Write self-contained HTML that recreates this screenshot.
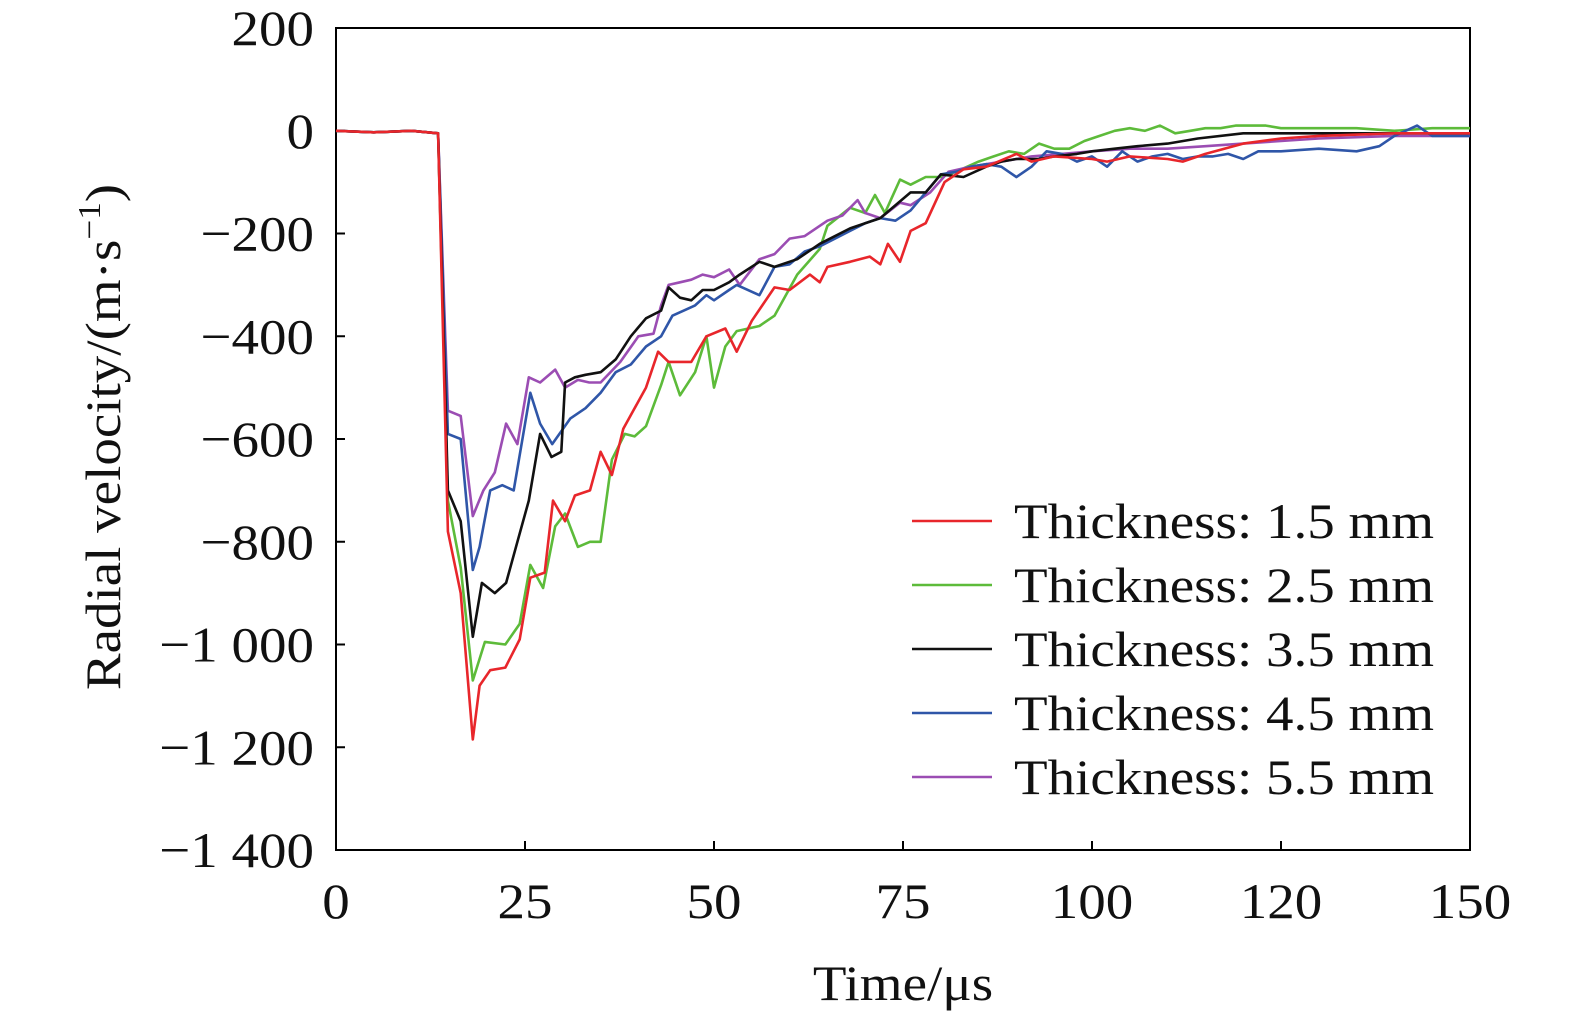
<!DOCTYPE html>
<html><head><meta charset="utf-8">
<style>
html,body{margin:0;padding:0;background:#fff;}
svg{display:block;font-family:"Liberation Serif",serif;}
</style></head>
<body>
<svg id="chart" width="1575" height="1023" viewBox="0 0 1575 1023"></svg>
<script>
const xTicks=[0,25,50,75,100,125,150];
const xTickLabels=["0","25","50","75","100","120","150"];
const yTicks=[200,0,-200,-400,-600,-800,-1000,-1200,-1400];
const yTickLabels=["200","0","\u2212200","\u2212400","\u2212600","\u2212800","\u22121 000","\u22121 200","\u22121 400"];
const seriesNames=["Thickness: 1.5 mm","Thickness: 2.5 mm","Thickness: 3.5 mm","Thickness: 4.5 mm","Thickness: 5.5 mm"];
const seriesColors=["#e8262b","#5dbb3a","#111111","#2f56a8","#9b4db3"];
const tRed=[0,5,10,13.5,14.8,16.5,18.1,19,20.4,22.4,24.3,25.7,27.6,28.7,30.3,31.6,33.6,35,36.5,38,41,42.6,44,47,49,51.5,53,55,58,60,62.7,64,65,68,70.6,72,73,74.6,76,78,80.5,83,86,90,92,95,100,102,105,110,112,115,120,125,130,140,150];
const vRed=[0,-3,0,-5,-780,-900,-1185,-1080,-1050,-1045,-990,-870,-860,-720,-760,-710,-700,-625,-670,-580,-500,-430,-450,-450,-400,-385,-430,-370,-305,-310,-280,-295,-265,-255,-245,-260,-220,-255,-195,-180,-100,-75,-70,-45,-60,-50,-55,-60,-50,-55,-60,-45,-25,-15,-10,-5,-5];
const tGreen=[0,5,10,13.5,14.8,16.5,18.1,19.7,22.4,24.3,25.7,27.4,29,30.3,32,33.6,35,36.5,38.2,39.5,41,43,44,45.5,47.5,49,50,51.5,53,56,58,61,64,65,68,70,71.3,72.6,74.6,76,78,80,82,85,87,89,91,93,95,97,99,101,103,105,107,109,111,113,115,117,119,121,123,125,130,135,140,145,150];
const vGreen=[0,-3,0,-5,-720,-850,-1070,-995,-1000,-960,-845,-890,-770,-745,-810,-800,-800,-640,-590,-595,-575,-495,-450,-515,-470,-400,-500,-420,-390,-380,-360,-280,-230,-185,-150,-160,-125,-160,-95,-105,-90,-90,-80,-60,-50,-40,-45,-25,-35,-35,-20,-10,0,5,0,10,-5,0,5,5,10,10,10,5,5,5,0,5,5];
const tBlack=[0,5,10,13.5,14.8,16.5,18.1,19.3,21,22.5,24,25.5,27,28.5,29.8,30.3,31.6,33,35,37,39,41,43,44,45.5,47,48.5,50,52,53.4,56,58,61,64,68,72,76,78,80,83,86,88,90,93,95,98,100,103,106,110,114,120,125,130,140,150];
const vBlack=[0,-3,0,-5,-700,-760,-985,-880,-900,-880,-800,-720,-590,-635,-625,-490,-480,-475,-470,-445,-400,-365,-350,-305,-325,-330,-310,-310,-295,-280,-255,-265,-250,-220,-190,-170,-120,-120,-85,-90,-70,-60,-55,-55,-50,-45,-40,-35,-30,-25,-15,-5,-5,-5,-5,-5];
const tBlue=[0,5,10,13.5,14.8,16.5,18.1,19,20.4,22,23.5,25.7,27,28.6,31,33,35,37,39,41,43,44.5,46,47.5,49,50,52,53,56,58,60,62,64,66,68,70,72,74,76,78,80,82,84,86,88,90,92,94,96,98,100,102,104,106,108,110,112,114,116,118,120,122,125,130,135,138,140,143,145,150];
const vBlue=[0,-3,0,-5,-590,-600,-855,-810,-700,-690,-700,-510,-570,-610,-560,-540,-510,-470,-455,-420,-400,-360,-350,-340,-320,-330,-310,-300,-320,-265,-260,-235,-225,-210,-195,-180,-170,-175,-155,-120,-85,-80,-70,-65,-70,-90,-70,-40,-45,-60,-50,-70,-40,-60,-50,-45,-55,-50,-50,-45,-55,-40,-40,-35,-40,-30,-10,10,-10,-10];
const tPurple=[0,5,10,13.5,14.8,16.5,18.1,19.5,21,22.5,24,25.5,27,29,30.3,32,33.5,35,37.6,40,42,43,44,45.5,47,48.5,50,52,53.4,56,58,60,62,65,67,69,70,72,74.6,76,78.6,81,84,88,92,96,100,105,110,115,120,125,130,140,150];
const vPurple=[0,-3,0,-5,-545,-555,-750,-700,-665,-570,-610,-480,-490,-465,-500,-485,-490,-490,-450,-400,-395,-340,-300,-295,-290,-280,-285,-270,-300,-250,-240,-210,-205,-175,-165,-135,-160,-170,-140,-145,-120,-80,-70,-60,-50,-45,-40,-35,-35,-30,-25,-20,-15,-10,-10];
const allT=[tRed,tGreen,tBlack,tBlue,tPurple];
const allV=[vRed,vGreen,vBlack,vBlue,vPurple];

const X0=336,X1=1470,Y0=28,Y1=850;
const xs=t=>X0+(t-0)/150*(X1-X0);
const ys=v=>Y0+(200-v)/1600*(Y1-Y0);
const svg=document.getElementById('chart');
const NS='http://www.w3.org/2000/svg';
function mk(tag,attrs,parent){const e=document.createElementNS(NS,tag);for(const k in attrs)e.setAttribute(k,attrs[k]);(parent||svg).appendChild(e);return e;}
const FS=50, SX=1.1;
function txt(x,y,anchor,s){return mk('text',{x:0,y:0,'font-size':FS,'text-anchor':anchor,fill:'#111',transform:`translate(${x},${y}) scale(${SX},1)`});}

const frame=mk('rect',{x:X0,y:Y0,width:X1-X0,height:Y1-Y0,fill:'none',stroke:'#000','stroke-width':2});



xTicks.forEach((v,i)=>{
  const x=xs(v);
  const tk=mk('line',{x1:x,x2:x,y1:Y1,y2:Y1-9,stroke:'#000','stroke-width':2});
  
  
  const lb=txt(x,918,'middle');
  lb.textContent=xTickLabels[i];
  
  
});
yTicks.forEach((v,i)=>{
  const y=ys(v);
  const tk=mk('line',{x1:X0,x2:X0+9,y1:y,y2:y,stroke:'#000','stroke-width':2});
  
  
  const lb=txt(314,y+17,'end');
  lb.textContent=yTickLabels[i];
  
  
});

const xt=txt(903,1000,'middle');
xt.textContent='Time/\u03bcs';


const yt=mk('text',{x:0,y:0,'font-size':FS,'text-anchor':'middle',fill:'#111',transform:`translate(120,437) rotate(-90) scale(${SX},1)`});
yt.innerHTML='Radial velocity/(m\u00b7s<tspan dy="-20" font-size="32">\u22121</tspan><tspan dy="20">)</tspan>';



const order=[1,4,3,2,0];
order.forEach(i=>{
  const pts=allT[i].map((t,j)=>xs(t).toFixed(1)+','+ys(allV[i][j]).toFixed(1)).join(' ');
  const pl=mk('polyline',{points:pts,fill:'none',stroke:seriesColors[i],'stroke-width':2.6,'stroke-linejoin':'round'});
  
  
});

seriesNames.forEach((n,i)=>{
  const y=521+i*64;
  const ln=mk('line',{x1:912,x2:992,y1:y,y2:y,stroke:seriesColors[i],'stroke-width':2.6});
  
  
  const tx=txt(1014,y+17,'start');
  tx.textContent=n;
  
  
});
</script>
</body></html>
